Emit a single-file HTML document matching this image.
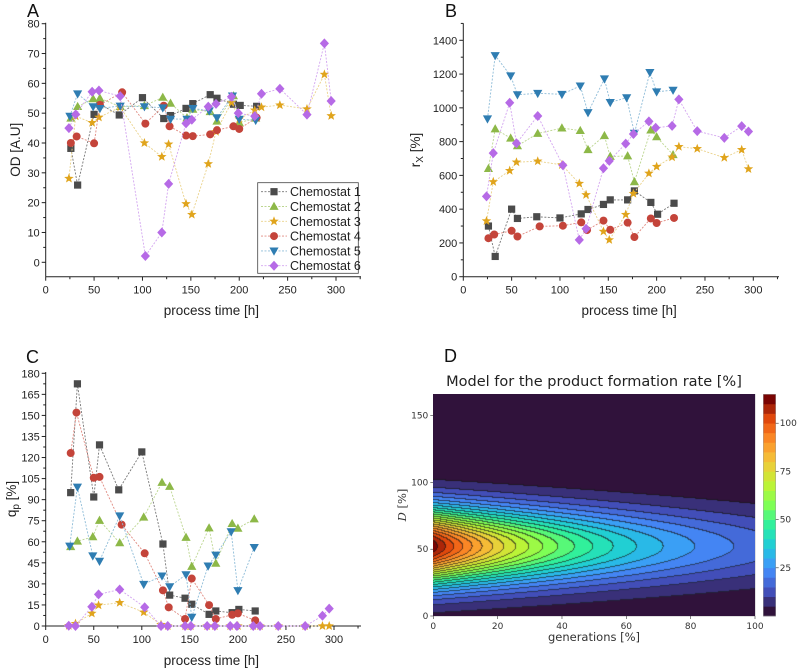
<!DOCTYPE html>
<html><head><meta charset="utf-8"><style>
body{margin:0;background:#fff;width:798px;height:668px;overflow:hidden;position:relative;font-family:"Liberation Sans",sans-serif}
svg{position:absolute;left:0;top:0}
canvas{position:absolute}
</style></head><body>
<svg id="s" width="798" height="668"></svg>
<canvas id="cv" width="322" height="222" style="left:433px;top:394px"></canvas>
<script>
// ---------------- data ----------------
const names=["Chemostat 1","Chemostat 2","Chemostat 3","Chemostat 4","Chemostat 5","Chemostat 6"];
const colors=["#4b4b4b","#8db848","#e0a41c","#c4443a","#2f7db2","#b66ae6"];
const lineColors=["#777","#bcd690","#ead28a","#e08a80","#8ebcd8","#d3a5f0"];
const markers=["square","triangle","star","circle","down","diamond"];
const t1=[26,33,50,56,76,100,122,129,145,152,170,177,194,201,218];
const t2=[26,33,49,56,77,102,121,129,146,152,170,177,194,200,217];
const t3=[24,31,48,55,77,102,120,127,145,151,168,176,192,200,216,223,242,270,288,295];
const t4=[26,32,50,56,79,103,122,128,145,152,170,177,194,200,218];
const t5=[25,33,49,56,77,102,121,129,146,152,169,177,193,200,217];
const t6=[24,31,48,55,77,103,120,127,145,151,168,176,192,199,216,223,242,270,288,295];
const odC1=[38.2,25.9,49.6,53,49.4,55.2,48.2,49.2,51.6,53.2,56.2,55,53,52.6,52.3];
const odC2=[48.3,52.2,54.8,55,52.2,52.5,55.3,53.3,48.4,51.3,50.5,47.3,55.8,46.8,48.3];
const odC3=[28.1,49,46.8,48.6,52,40,35.4,39.6,19.6,16,33,43.8,53.6,48,51,52,52.7,51.4,63,49.1];
const odC4=[40,42.2,39.9,52.8,57,46.5,52.5,45.6,42.5,42.3,42.9,44.3,45.6,44.7,48.5];
const odC5=[49,56.5,52.2,51.6,52.4,52.2,51.8,48,48,51.6,50.8,48.5,55.8,48,47.6];
const odC6=[45,49.6,57.2,57.6,55.7,2.1,10,26.3,46.6,47.8,52.2,53.1,55.5,50,49,56.5,58.2,49.5,73.4,54.1];
const rxC1=[300,120,400,345,355,348,372,398,428,455,455,508,440,370,435];
const rxC2=[640,875,820,775,848,880,865,752,835,712,715,562,868,828,722];
const rxC3=[330,562,628,678,684,662,552,485,268,218,368,492,612,652,708,770,758,705,752,638];
const rxC4=[228,250,272,238,298,302,322,276,332,278,320,235,345,318,348];
const rxC5=[935,1310,1190,1078,1086,1080,1130,972,1172,1032,1060,850,1210,1095,1105];
const rxC6=[476,732,1030,790,952,660,218,284,642,686,788,845,920,882,893,1050,862,822,892,860];
const qpC1=[95,172.5,91.9,129,97,124,58.4,22,19.8,15.5,8.3,10.7,9.5,11.8,10.7];
const qpC2=[56.5,60.4,63.5,75.2,59.2,77.5,102.2,99.4,63.1,42.4,69.8,44.6,72.9,69.6,76.2];
const qpC3=[0.2,1.7,9,14.8,16.6,9.8,1,0,0,0,0,0,0,0,0,0,0,0,0,0];
const qpC4=[123.2,152,105.6,106.2,72.2,51.8,25.4,13.3,5,33.8,14.9,5,8,9,4];
const qpC5=[57,99,50,46.2,78.5,29.7,35.7,28,36.6,6.3,42.8,50.6,67.2,25.3,56];
const qpC6=[0.2,0,13.7,22.5,26,13.4,0,0,0,0,0,0,0,0,0,0,0,0,7.3,12.4];
const times=[t1,t2,t3,t4,t5,t6];
const xTicks=[0,50,100,150,200,250,300];
const odTicks=[0,10,20,30,40,50,60,70,80];
const rxTicks=[0,200,400,600,800,1000,1200,1400];
const qpTicks=[0,15,30,45,60,75,90,105,120,135,150,165,180];
// model params for panel D
const modelQmax=113, modelDcenter=52, modelSigma=20, modelTau=54;
const contourLevels=[0,5,10,15,20,25,30,35,40,45,50,55,60,65,70,75,80,85,90,95,100,105,110,115];
const cbTicks=[25,50,75,100];
const dXTicks=[0,20,40,60,80,100];
const dYTicks=[0,50,100,150];

// ---------------- helpers ----------------
const NS="http://www.w3.org/2000/svg";
const S=document.getElementById('s');
function el(tag,attrs,parent,txt){const e=document.createElementNS(NS,tag);for(const k in attrs)e.setAttribute(k,attrs[k]);if(txt!==undefined)e.textContent=txt;(parent||S).appendChild(e);return e;}
function marker(g,type,x,y,c){
  let m;
  if(type==="square")m=el('rect',{x:x-3.6,y:y-3.6,width:7.2,height:7.2,fill:c},g);
  else if(type==="circle")m=el('circle',{cx:x,cy:y,r:4,fill:c},g);
  else if(type==="triangle")m=el('polygon',{points:`${x},${y-4.8} ${x+4.6},${y+3.4} ${x-4.6},${y+3.4}`,fill:c},g);
  else if(type==="down")m=el('polygon',{points:`${x},${y+4.8} ${x+4.6},${y-3.4} ${x-4.6},${y-3.4}`,fill:c},g);
  else if(type==="diamond")m=el('polygon',{points:`${x},${y-5} ${x+4.6},${y} ${x},${y+5} ${x-4.6},${y}`,fill:c},g);
  else{let p=[];for(let i=0;i<10;i++){const a=-Math.PI/2+i*Math.PI/5;const rr=i%2?2.1:5;p.push((x+rr*Math.cos(a)).toFixed(2)+','+(y+rr*Math.sin(a)).toFixed(2));}m=el('polygon',{points:p.join(' '),fill:c},g);}
  return m;
}
function panel(cfg){
  const g=el('g',{});
  
  
  const X=v=>cfg.x0+(v-0)*(cfg.x300-cfg.x0)/300;
  const Y=v=>cfg.yb0+(v-cfg.ymin0)*(cfg.yTop-cfg.yb0)/(cfg.ymaxT-cfg.ymin0);
  const axB=cfg.axisBottom, axT=cfg.axisTop, axR=cfg.axisRight;
  const ax=el('g',{stroke:'#222','stroke-width':1},g);
  
  el('line',{x1:cfg.x0,y1:axT,x2:cfg.x0,y2:axB},ax);
  el('line',{x1:cfg.x0,y1:axB,x2:axR,y2:axB},ax);
  xTicks.forEach(v=>{const x=X(v);el('line',{x1:x,y1:axB,x2:x,y2:axB+4},ax);
    if(X(v+25)<axR)el('line',{x1:X(v+25),y1:axB,x2:X(v+25),y2:axB+2.5},ax);
    const t=el('text',{x:x,y:axB+17,'font-size':11,'text-anchor':'middle',fill:'#222'},g,String(v));
    });
  const yt=cfg.yTicks, step=yt[1]-yt[0];
  yt.forEach((v,i)=>{const y=Y(v);el('line',{x1:cfg.x0,y1:y,x2:cfg.x0-4,y2:y},ax);
    const t=el('text',{x:cfg.x0-6,y:y+4,'font-size':11,'text-anchor':'end',fill:'#222'},g,String(v));
    });
  for(let v=yt[0]-step/2;v<=yt[yt.length-1]+step/2;v+=step){const y=Y(v);if(y<=axB&&y>=axT)el('line',{x1:cfg.x0,y1:y,x2:cfg.x0-2.5,y2:y},ax);}
  const xt=el('text',{x:(cfg.x0+axR)/2+8,y:cfg.xTitleY,'font-size':13.5,'text-anchor':'middle',fill:'#222'},g,'process time [h]');
  
  const ytt=el('text',{transform:`translate(${cfg.yTitleX},${(axT+axB)/2}) rotate(-90)`,'font-size':13.5,'text-anchor':'middle',fill:'#222'},g);
  ytt.innerHTML=cfg.yTitle;
  
  const L=el('text',{x:cfg.letterX,y:cfg.letterY,'font-size':18,fill:'#111'},g,cfg.letter);
  
  cfg.series.forEach((vals,i)=>{
    const sg=el('g',{},g);
    
    const ts=times[i];
    const pts=vals.map((v,j)=>X(ts[j]).toFixed(1)+','+Y(v).toFixed(1)).join(' ');
    const pl=el('polyline',{points:pts,fill:'none',stroke:lineColors[i],'stroke-width':0.9,'stroke-dasharray':'2,1.5'},sg);
    
    vals.forEach((v,j)=>{const m=marker(sg,markers[i],X(ts[j]),Y(v),colors[i]);
      });
  });
  return g;
}
panel({name:'panel-a-od',letter:'A',letterX:27,letterY:17,x0:45.7,x300:336,yb0:262.3,ymin0:0,yTop:23.7,ymaxT:80,axisBottom:276.7,axisTop:22.7,axisRight:361,yTicks:odTicks,yTitle:'OD [A.U]',yTitleX:20,xTitleY:315,series:[odC1,odC2,odC3,odC4,odC5,odC6]});
panel({name:'panel-b-rx',letter:'B',letterX:445,letterY:17,x0:463.3,x300:753.3,yb0:276.7,ymin0:0,yTop:40.3,ymaxT:1400,axisBottom:276.7,axisTop:23.3,axisRight:779,yTicks:rxTicks,yTitle:'r<tspan font-size="10" dy="3">X</tspan><tspan dy="-3"> [%]</tspan>',yTitleX:420,xTitleY:315,series:[rxC1,rxC2,rxC3,rxC4,rxC5,rxC6]});
panel({name:'panel-c-qp',letter:'C',letterX:26,letterY:363,x0:45.7,x300:334,yb0:626,ymin0:0,yTop:373.3,ymaxT:180,axisBottom:626,axisTop:372,axisRight:361,yTicks:qpTicks,yTitle:'q<tspan font-size="10" dy="3">p</tspan><tspan dy="-3"> [%]</tspan>',yTitleX:16,xTitleY:665,series:[qpC1,qpC2,qpC3,qpC4,qpC5,qpC6]});

// legend in A
const lg=el('g',{});

el('rect',{x:257.7,y:182.7,width:100.6,height:90.6,fill:'#fff',stroke:'#444','stroke-width':0.8},lg);
names.forEach((n,i)=>{const y=191.7+i*14.8;
  const e=el('g',{},lg);
  el('line',{x1:261,y1:y,x2:287,y2:y,stroke:lineColors[i],'stroke-width':0.9,'stroke-dasharray':'2,1.5'},e);
  marker(e,markers[i],274,y,colors[i]);
  el('text',{x:290,y:y+4.5,'font-size':12.5,fill:'#222'},e,n);});

// ---------------- panel D ----------------
const turboKeys=[[48,18,59],[68,84,196],[68,144,254],[31,200,222],[41,239,162],[126,255,85],[193,243,52],[241,202,58],[254,146,42],[234,79,13],[122,4,3]];
function turbo(t){t=Math.max(0,Math.min(1,t));const f=t*10,i=Math.min(9,Math.floor(f)),r=f-i;
  return turboKeys[i].map((v,k)=>Math.round(v+(turboKeys[i+1][k]-v)*r));}
const nb=contourLevels.length-1;
const bandCol=i=>turbo(i/(nb-1));
function model(gen,D){return modelQmax*Math.exp(-gen/modelTau)*Math.exp(-0.5*Math.pow((D-modelDcenter)/modelSigma,2));}
const dx0=433.3,dx1=755,dy0=616,dy1=394.3,dYmax=166;
const cv=document.getElementById('cv'),ctx=cv.getContext('2d');
const W=cv.width,H=cv.height,img=ctx.createImageData(W,H);
const band=new Int16Array(W*H);
for(let j=0;j<H;j++)for(let i=0;i<W;i++){
  const gen=(i+0.5)/W*100, D=(H-j-0.5)/H*dYmax;
  const q=model(gen,D);let b=0;while(b<nb-1&&q>=contourLevels[b+1])b++;band[j*W+i]=b;}
for(let j=0;j<H;j++)for(let i=0;i<W;i++){
  const b=band[j*W+i];let c=bandCol(b);
  const edge=(i+1<W&&band[j*W+i+1]!==b)||(j+1<H&&band[(j+1)*W+i]!==b);
  if(edge)c=c.map(v=>Math.round(v*0.35+15));
  const k=(j*W+i)*4;img.data[k]=c[0];img.data[k+1]=c[1];img.data[k+2]=c[2];img.data[k+3]=255;}
ctx.putImageData(img,0,0);

const dg=el('g',{});

const dl=el('text',{x:444,y:362,'font-size':18,fill:'#111'},dg,'D');

const tt=el('text',{x:594,y:386,'font-size':14.5,'text-anchor':'middle',fill:'#222','font-family':'DejaVu Sans, sans-serif'},dg,'Model for the product formation rate [%]');

el('rect',{x:dx0,y:dy1,width:dx1-dx0,height:dy0-dy1,fill:'none',stroke:'#999','stroke-width':0.6},dg);
const DX=v=>dx0+v/100*(dx1-dx0), DY=v=>dy0-v/dYmax*(dy0-dy1);
dXTicks.forEach(v=>{el('line',{x1:DX(v),y1:dy0,x2:DX(v),y2:dy0+3,stroke:'#333','stroke-width':0.6},dg);
  const t=el('text',{x:DX(v),y:dy0+13,'font-size':9,'text-anchor':'middle',fill:'#333','font-family':'DejaVu Sans, sans-serif'},dg,String(v));
  });
dYTicks.forEach(v=>{el('line',{x1:dx0,y1:DY(v),x2:dx0-3,y2:DY(v),stroke:'#333','stroke-width':0.6},dg);
  const t=el('text',{x:dx0-5,y:DY(v)+3,'font-size':9,'text-anchor':'end',fill:'#333','font-family':'DejaVu Sans, sans-serif'},dg,String(v));
  });
const dxt=el('text',{x:594,y:641,'font-size':11.5,'text-anchor':'middle',fill:'#333','font-family':'DejaVu Sans, sans-serif'},dg,'generations [%]');

const dyt=el('text',{transform:`translate(406,505) rotate(-90)`,'font-size':11.5,'text-anchor':'middle',fill:'#333','font-family':'DejaVu Serif, serif'},dg);
dyt.innerHTML='<tspan font-style="italic">D</tspan> [%]';

const cb=el('g',{},dg);

const cbx=763.3,cbw=12.4,cbMax=contourLevels[contourLevels.length-1];
const CY=v=>dy0-v/cbMax*(dy0-dy1);
for(let b=0;b<nb;b++){const c=bandCol(b);
  el('rect',{x:cbx,y:CY(contourLevels[b+1]),width:cbw,height:CY(contourLevels[b])-CY(contourLevels[b+1])+0.3,fill:`rgb(${c[0]},${c[1]},${c[2]})`},cb);}
el('rect',{x:cbx,y:dy1,width:cbw,height:dy0-dy1,fill:'none',stroke:'#999','stroke-width':0.5},cb);
cbTicks.forEach(v=>{el('line',{x1:cbx+cbw,y1:CY(v),x2:cbx+cbw+3,y2:CY(v),stroke:'#333','stroke-width':0.6},cb);
  const t=el('text',{x:cbx+cbw+4,y:CY(v)+3,'font-size':9,fill:'#333','font-family':'DejaVu Sans, sans-serif'},cb,String(v));
  });
</script>
</body></html>
